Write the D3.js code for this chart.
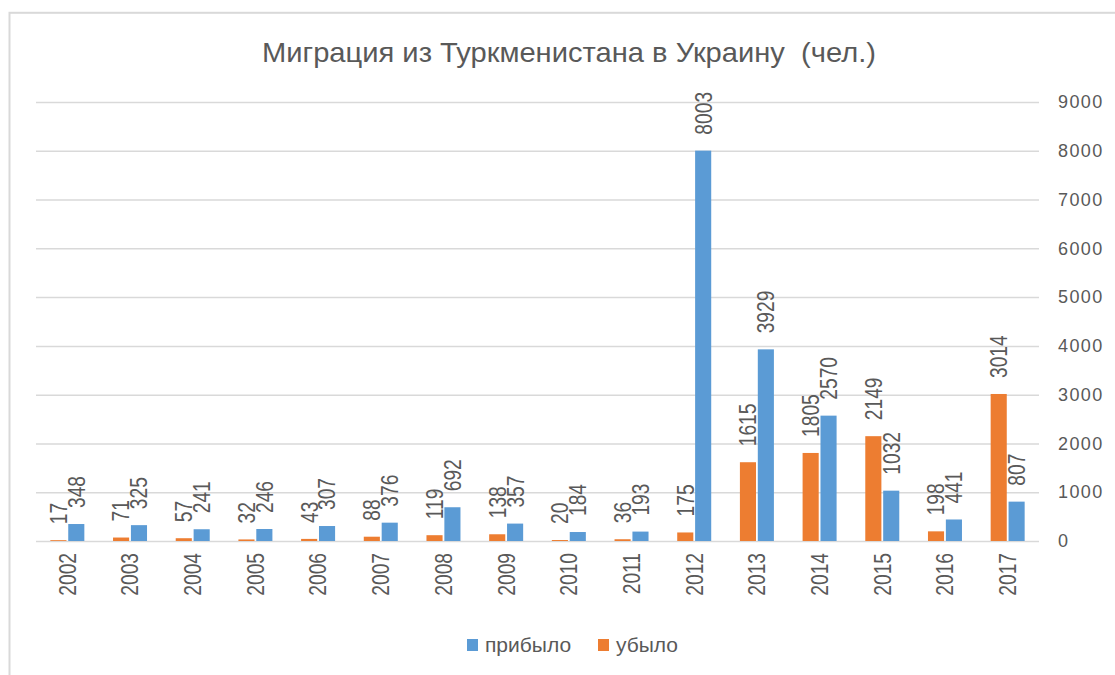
<!DOCTYPE html>
<html lang="ru">
<head>
<meta charset="UTF-8">
<script src="https://d3js.org/d3.v7.min.js"></script>
<style>
  body {
    margin: 0;
    background: #fff;
    font-family: "Liberation Sans", Arial, sans-serif;
  }
  .grid line {
    stroke: #d9d9d9;
    stroke-width: 1.5px;
  }
  .grid path {
    display: none;
  }
  text {
    fill: #595959;
  }
  .title {
    white-space: pre;
  }
</style>
</head>
<body>
<script>
// chart data
var years = ["2002", "2003", "2004", "2005", "2006", "2007", "2008", "2009",
             "2010", "2011", "2012", "2013", "2014", "2015", "2016", "2017"];
var arrived = [348, 325, 241, 246, 307, 376, 692, 357, 184, 193, 8003, 3929, 2570, 1032, 441, 807];   // прибыло
var departed = [17, 71, 57, 32, 43, 88, 119, 138, 20, 36, 175, 1615, 1805, 2149, 198, 3014];        // убыло
var yTicks = [0, 1000, 2000, 3000, 4000, 5000, 6000, 7000, 8000, 9000];

var titleText = "Миграция из Туркменистана в Украину  (чел.)";
var legendNames = ["прибыло", "убыло"];
var barOrder = ["убыло", "прибыло"];   // left to right inside a group
var colors = { "прибыло": "#5B9BD5", "убыло": "#ED7D31" };

var width = 1115, height = 675;
var plot = { left: 36, right: 1039, top: 102, bottom: 541 };

// build rows for each year
var rows = years.map(function(y, i) {
  return { year: y, "прибыло": arrived[i], "убыло": departed[i] };
});

var svg = d3.select("body").append("svg")
  .attr("width", width)
  .attr("height", height);

// chart frame (only left / top edges are inside the picture)
svg.append("rect")
  .attr("x", 9.5)
  .attr("y", 12.8)
  .attr("width", 1300)
  .attr("height", 900)
  .style("fill", "none")
  .style("stroke", "#d9d9d9")
  .style("stroke-width", 2);

// scales
var x = d3.scaleBand()
  .domain(years)
  .range([plot.left, plot.right]);

var groupWidth = 34;
var xs = d3.scaleBand()
  .domain(barOrder)
  .range([0, groupWidth])
  .paddingInner(0.1);
var groupOffset = (x.bandwidth() - groupWidth) / 2;

var y = d3.scaleLinear()
  .domain([0, 9000])
  .range([plot.bottom, plot.top]);

// gridlines + right axis labels
var yAxis = svg.append("g")
  .attr("class", "grid")
  .attr("transform", "translate(" + plot.right + ",0)")
  .call(d3.axisRight(y)
    .tickValues(yTicks)
    .tickSize(-(plot.right - plot.left))
    .tickPadding(19)
    .tickFormat(d3.format("d")));

yAxis.selectAll("text")
  .style("font-size", "18px")
  .style("letter-spacing", "1.4px")
  .style("fill", "#595959");

// x axis labels (rotated)
var xAxis = svg.append("g")
  .attr("transform", "translate(0," + plot.bottom + ")")
  .call(d3.axisBottom(x).tickSize(0));

xAxis.select("path").remove();
xAxis.selectAll("text")
  .attr("y", 0)
  .attr("x", -15)
  .attr("dy", "0.35em")
  .attr("text-anchor", "end")
  .attr("transform", "rotate(-90) scale(0.8,1)")
  .style("font-size", "24px")
  .style("fill", "#595959");

// bars
var groups = svg.append("g").selectAll("g")
  .data(rows)
  .enter().append("g")
  .attr("transform", function(d) { return "translate(" + (x(d.year) + groupOffset) + ",0)"; });

groups.selectAll("rect")
  .data(function(d) { return barOrder.map(function(k) { return { key: k, value: d[k] }; }); })
  .enter().append("rect")
  .attr("x", function(d) { return xs(d.key); })
  .attr("y", function(d) { return y(d.value); })
  .attr("width", xs.bandwidth())
  .attr("height", function(d) { return y(0) - y(d.value); })
  .style("fill", function(d) { return colors[d.key]; });

// data labels, rotated, above each bar
groups.selectAll("text")
  .data(function(d) { return barOrder.map(function(k) { return { key: k, value: d[k] }; }); })
  .enter().append("text")
  .attr("transform", function(d) {
    return "translate(" + (xs(d.key) + xs.bandwidth() / 2) + "," + (y(d.value) - 16) + ") rotate(-90) scale(0.8,1)";
  })
  .attr("dy", "0.35em")
  .attr("text-anchor", "start")
  .style("font-size", "24px")
  .text(function(d) { return d.value; });

// title
svg.append("text")
  .attr("class", "title")
  .attr("x", 262)
  .attr("y", 62)
  .attr("textLength", 614)
  .attr("lengthAdjust", "spacingAndGlyphs")
  .style("font-size", "28px")
  .text(titleText);

// legend
var legend = svg.append("g")
  .attr("transform", "translate(467,652)");

var legendX = [0, 131];
legendNames.forEach(function(name, i) {
  var item = legend.append("g").attr("transform", "translate(" + legendX[i] + ",0)");
  item.append("rect")
    .attr("x", 0)
    .attr("y", -13)
    .attr("width", 11)
    .attr("height", 12)
    .style("fill", colors[name]);
  item.append("text")
    .attr("x", 18)
    .attr("y", 0)
    .style("font-size", "21px")
    .text(name);
});
</script>
</body>
</html>
